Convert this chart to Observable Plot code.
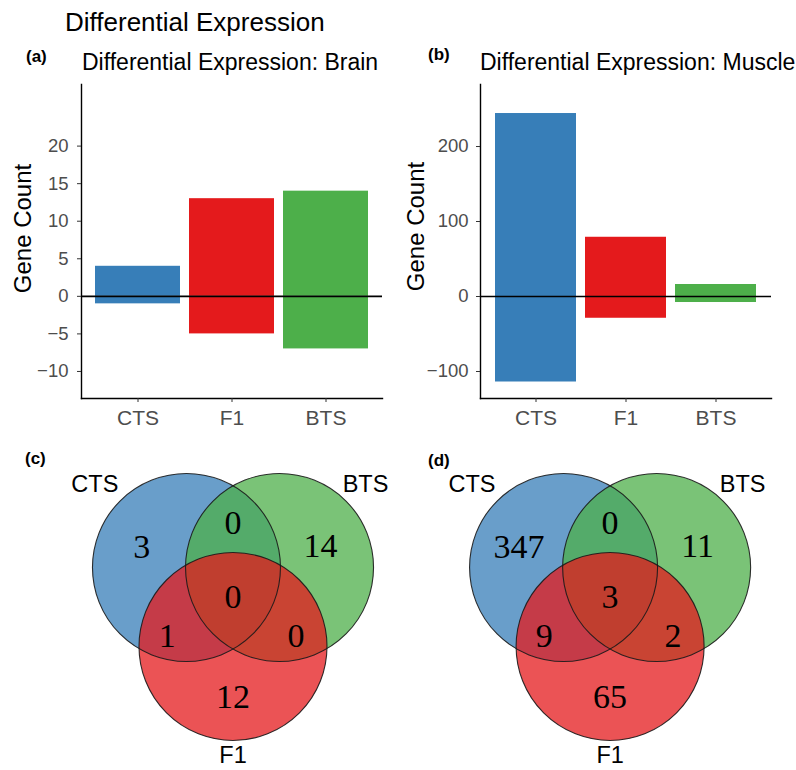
<!DOCTYPE html>
<html><head><meta charset="utf-8">
<script src="https://cdn.jsdelivr.net/npm/d3@7"></script>
<script src="https://cdn.jsdelivr.net/npm/@observablehq/plot@0.6"></script>
<style>
body{margin:0;background:#fff;}
#root{position:relative;width:796px;height:770px;overflow:hidden;font-family:"Liberation Sans",Arial,Helvetica,sans-serif;color:#000;}
.abs{position:absolute;white-space:nowrap;line-height:1;}
.panel{position:absolute;}
.tag{font-weight:bold;font-size:17px;}
.sub{font-size:23px;}
</style></head><body><div id="root"></div>
<script>
// ---- data ----
const groups = ["CTS", "F1", "BTS"];
const brainUp = [4, 13, 14];
const brainDown = [-1, -5, -7];
const muscleUp = [244, 79, 16];
const muscleDown = [-114, -29, -8];
const brainTicks = [-10, -5, 0, 5, 10, 15, 20];
const muscleTicks = [-100, 0, 100, 200];
const brainYDomain = [-13.6, 28.2];
const muscleYDomain = [-136, 282.7];
const vennSets = ["CTS", "BTS", "F1"];
const vennRegions = ["CTS", "CTS∩BTS", "BTS", "CTS∩BTS∩F1", "CTS∩F1", "BTS∩F1", "F1"];
const brainVenn = [3, 0, 14, 0, 1, 0, 12];
const muscleVenn = [347, 0, 11, 3, 9, 2, 65];

// ---- styling / layout ----
const palette = ["#377EB8", "#E41A1C", "#4DAF4A"];
const vennPalette = ["#377EB8", "#4DAF4A", "#E41A1C"];
const FONT = '"Liberation Sans", Arial, Helvetica, sans-serif';
const R = 94; // venn radius in px
const vennCenter = {CTS: [-0.495, 0], BTS: [0.495, 0], F1: [0, 0.84]};
const regionPos = [[-0.97, -0.22], [0, -0.47], [0.93, -0.23], [0, 0.32], [-0.70, 0.725], [0.67, 0.735], [0, 1.383]];
const setLabelPos = {CTS: [-1.47, -0.88], BTS: [1.41, -0.88], F1: [0, 2.0]};

const root = document.getElementById("root");
function place(el, left, top) {
  const d = document.createElement("div");
  d.className = "panel";
  d.style.left = left + "px";
  d.style.top = top + "px";
  d.appendChild(el);
  root.appendChild(d);
}
function label(text, cls, left, top, size) {
  const d = document.createElement("div");
  d.className = "abs " + cls;
  d.textContent = text;
  d.style.left = left + "px";
  d.style.top = top + "px";
  if (size) d.style.fontSize = size + "px";
  root.appendChild(d);
}

function barPlot(up, down, yDomain, yTicks, w, ml, mr, labDx, labDy, tickPad) {
  const rows = groups.map((g, i) => ({group: g, up: up[i], down: down[i]}));
  return Plot.plot({
    width: w, height: 364,
    marginLeft: ml, marginRight: mr, marginTop: 8, marginBottom: 42,
    style: {fontFamily: FONT, background: "white", overflow: "visible"},
    x: {type: "band", domain: groups, paddingInner: 0.1, paddingOuter: 0.15},
    y: {domain: yDomain},
    color: {domain: groups, range: palette},
    marks: [
      Plot.barY(rows, {x: "group", y1: 0, y2: "up", fill: "group"}),
      Plot.barY(rows, {x: "group", y1: "down", y2: 0, fill: "group"}),
      Plot.ruleY([0], {stroke: "black", strokeWidth: 1.6}),
      Plot.frame({anchor: "left", stroke: "black", strokeWidth: 1.4}),
      Plot.frame({anchor: "bottom", stroke: "black", strokeWidth: 1.4}),
      Plot.axisX({tickSize: 4, tickPadding: 8, fontSize: 21, label: null, stroke: "#333", fill: "#4d4d4d"}),
      Plot.axisY(yTicks, {tickSize: 4, tickPadding: tickPad, fontSize: 18.5, label: null, stroke: "#333", fill: "#4d4d4d"}),
      Plot.text(["Gene Count"], {frameAnchor: "left", textAnchor: "middle", text: d => d, rotate: -90, dx: labDx, dy: labDy, fontSize: 24, fill: "black"})
    ]
  });
}

function vennPlot(counts, w, h, cxPx, cyPx) {
  const circles = vennSets.map(s => ({set: s, x: vennCenter[s][0], y: vennCenter[s][1]}));
  const regions = vennRegions.map((r, i) => ({region: r, n: counts[i], x: regionPos[i][0], y: regionPos[i][1]}));
  const labels = vennSets.map(s => ({set: s, x: setLabelPos[s][0], y: setLabelPos[s][1]}));
  return Plot.plot({
    width: w, height: h, margin: 0,
    style: {fontFamily: FONT, background: "transparent", overflow: "visible"},
    x: {domain: [-cxPx / R, (w - cxPx) / R], range: [0, w], axis: null},
    y: {domain: [-cyPx / R, (h - cyPx) / R], range: [0, h], axis: null},
    color: {domain: vennSets, range: vennPalette},
    marks: [
      Plot.dot(circles, {x: "x", y: "y", r: R, fill: "set", fillOpacity: 0.75}),
      Plot.dot(circles, {x: "x", y: "y", r: R, fill: "none", stroke: "#1a1a1a", strokeWidth: 1.1, strokeOpacity: 0.9}),
      Plot.text(regions, {x: "x", y: "y", text: d => String(d.n), fontFamily: '"Liberation Serif", "Times New Roman", serif', fontSize: 34, fill: "black"}),
      Plot.text(labels, {x: "x", y: "y", text: "set", fontSize: 23.5, fill: "black"})
    ]
  });
}

// title & tags
label("Differential Expression", "", 65, 9, 26);
label("(a)", "tag", 26, 48);
label("Differential Expression: Brain", "sub", 82, 51);
label("(b)", "tag", 428, 46);
label("Differential Expression: Muscle", "sub", 480, 51);

place(barPlot(brainUp, brainDown, brainYDomain, brainTicks, 398, 81, 16, -58, -13, 9), 0, 76);
place(barPlot(muscleUp, muscleDown, muscleYDomain, muscleTicks, 396, 80, 25, -64, -15, 8), 400, 76);

place(vennPlot(brainVenn, 398, 330, 232.5, 127), 0, 440);
place(vennPlot(muscleVenn, 396, 330, 209.6, 127), 400, 440);

label("(c)", "tag", 25, 450);
label("(d)", "tag", 428, 452);
</script></body></html>
